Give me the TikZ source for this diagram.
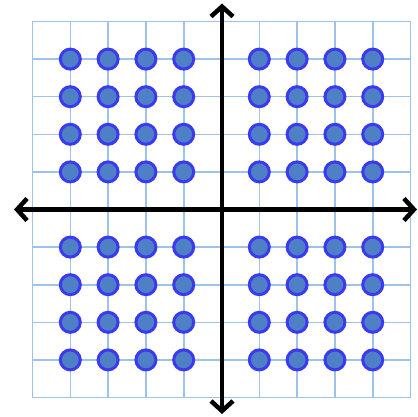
\documentclass[tikz,border=0pt]{standalone}
\usetikzlibrary{arrows.meta}
\definecolor{gridc}{HTML}{9DC3EA}
\definecolor{dotfill}{HTML}{4F7FC4}
\definecolor{dotline}{HTML}{3A3AF0}
\begin{document}
\begin{tikzpicture}[x=1pt,y=-1pt,
  gridline/.style={draw=gridc,line width=1.6pt},
  dot/.style={circle,draw=dotline,fill=dotfill,line width=3pt,minimum size=20pt,inner sep=0pt},
  axis/.style={line width=4.5pt,-{Straight Barb[length=10pt,width=22pt,line width=4.5pt]}}]
\useasboundingbox (0,0) rectangle (417,417);
% grid
\foreach \i in {0,...,10}{
  \draw[gridline] ({32.5+37.8*\i},21.5) -- ({32.5+37.8*\i},397.5);
  \draw[gridline] (32.5,{21.5+37.6*\i}) -- (410.5,{21.5+37.6*\i});
}
% axes
\coordinate (L) at (14,209.5);
\coordinate (R) at (417,209.5);
\coordinate (T) at (222,3.5);
\coordinate (B) at (222,414);
\coordinate (O) at (222,209.5);
\draw[axis] (O) -- (L);
\draw[axis] (O) -- (R);
\draw[axis] (O) -- (T);
\draw[axis] (O) -- (B);
% dots
\foreach \i in {1,2,3,4,6,7,8,9}{
  \foreach \j in {1,2,3,4,6,7,8,9}{
    \node[dot] (d\i\j) at ({32.5+37.8*\i},{21.5+37.6*\j}) {};
  }
}
\end{tikzpicture}
\end{document}
